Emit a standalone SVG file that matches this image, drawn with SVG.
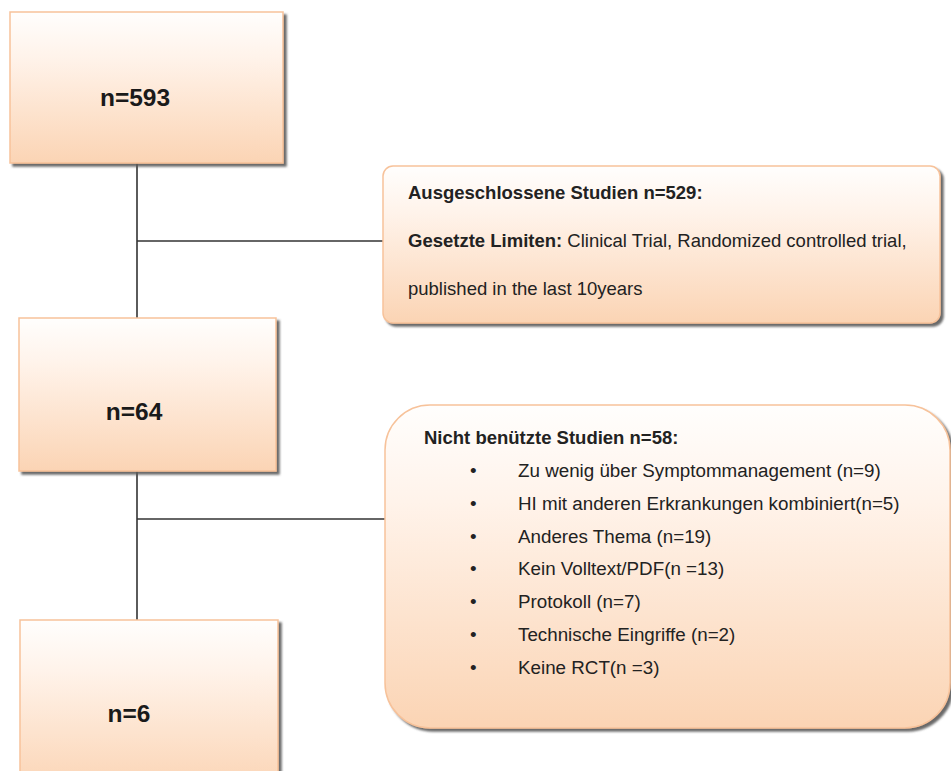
<svg xmlns="http://www.w3.org/2000/svg" width="951" height="771" viewBox="0 0 951 771">
<style>
.box{fill:url(#peach);stroke:#f7c29a;stroke-width:1.5;filter:url(#sh)}
.big{font-family:"Liberation Sans",Arial,sans-serif;font-weight:bold;font-size:24.5px;fill:#1a1a1a;text-anchor:middle}
.t{font-family:"Liberation Sans",Arial,sans-serif;font-size:18.5px;fill:#222}
.li{font-size:18.8px}
.b{font-weight:bold}
.conn{stroke:#333;stroke-width:1.6;fill:none}
</style>
<defs>
<linearGradient id="peach" x1="0" y1="0" x2="0" y2="1">
<stop offset="0" stop-color="#fffefd"/>
<stop offset="0.3" stop-color="#fff3ea"/>
<stop offset="1" stop-color="#fbd4b4"/>
</linearGradient>
<filter id="sh" x="-5%" y="-5%" width="115%" height="115%">
<feGaussianBlur in="SourceAlpha" stdDeviation="0.8"/>
<feOffset dx="3" dy="3" result="o"/>
<feFlood flood-color="#5a5a5a" flood-opacity="0.9"/>
<feComposite in2="o" operator="in" result="s"/>
<feMerge><feMergeNode in="s"/><feMergeNode in="SourceGraphic"/></feMerge>
</filter>
</defs>
<g id="connectors">
<line class="conn" x1="137" y1="163" x2="137" y2="318"/>
<line class="conn" x1="137" y1="471" x2="137" y2="620"/>
<line class="conn" x1="137" y1="241" x2="383" y2="241"/>
<line class="conn" x1="137" y1="519" x2="386" y2="519"/>
</g>
<g id="n593">
<rect class="box" x="10" y="12" width="273" height="151"/>
<text class="big" x="135" y="106">n=593</text>
</g>
<g id="n64">
<rect class="box" x="19" y="318" width="257" height="153"/>
<text class="big" x="134" y="420">n=64</text>
</g>
<g id="n6">
<rect class="box" x="20" y="620" width="258" height="170"/>
<text class="big" x="129" y="722">n=6</text>
</g>
<g id="excluded">
<rect class="box" x="383" y="166" width="557" height="157" rx="10"/>
<text class="t b" x="408" y="199">Ausgeschlossene Studien n=529:</text>
<text class="t" x="408" y="247"><tspan class="b">Gesetzte Limiten:</tspan> Clinical Trial, Randomized controlled trial,</text>
<text class="t" x="408" y="295">published in the last 10years</text>
</g>
<g id="unused">
<rect class="box" x="385" y="405" width="565" height="323" rx="45"/>
<text class="t b" x="424" y="444">Nicht benützte Studien n=58:</text>
<g class="t li">
<text x="470" y="477">•</text><text x="518" y="477">Zu wenig über Symptommanagement (n=9)</text>
<text x="470" y="510">•</text><text x="518" y="510">HI mit anderen Erkrankungen kombiniert(n=5)</text>
<text x="470" y="543">•</text><text x="518" y="543">Anderes Thema (n=19)</text>
<text x="470" y="575">•</text><text x="518" y="575">Kein Volltext/PDF(n =13)</text>
<text x="470" y="608">•</text><text x="518" y="608">Protokoll (n=7)</text>
<text x="470" y="641">•</text><text x="518" y="641">Technische Eingriffe (n=2)</text>
<text x="470" y="674">•</text><text x="518" y="674">Keine RCT(n =3)</text>
</g>
</g>
</svg>
